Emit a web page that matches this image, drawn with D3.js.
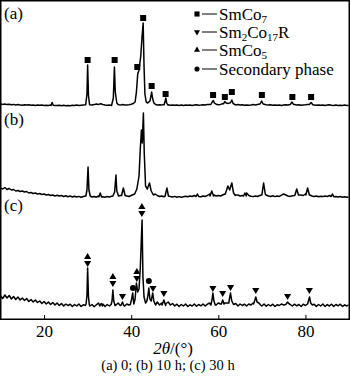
<!DOCTYPE html>
<html><head><meta charset="utf-8">
<script src="https://cdn.jsdelivr.net/npm/d3@7"></script>
<style>body{margin:0;background:#fff}svg{display:block}text{font-family:"Liberation Serif","Times New Roman",serif;fill:#000}</style>
</head><body><svg id="c" width="350" height="380"></svg>
<script>
// ---------- data ----------
const xTicks = [20, 40, 60, 80];
const traceLabels = ["(a)", "(b)", "(c)"];
const traceOffsets = [213, 121, 12];        // intensity offset of each pattern (a.u.)
const baseStart = 10, baseStep = 0.5;        // background sampled every 0.5 deg from 10 deg

const aBase = [2.2,1.6,2.0,1.4,1.8,1.2,1.6,1.0,1.4,1.1,0.8,1.3,0.9,1.2,0.7,1.0,0.6,1.1,0.7,0.9,0.5,
 0.8,0.6,1.0,0.8,0.5,0.4,0.8,0.3,0.7,0.2,0.6,0.3,0.7,0.4,0.9,0.5,0.8,1.0,1.2,1.5,
 1.2,0.9,1.4,2.0,1.6,2.3,1.5,1.0,0.7,1.0,0.6,1.1,0.8,1.2,0.9,1.5,1.1,0.9,1.3,1.8,
 2.5,3.0,4.0,5.0,6.0,5.0,3.0,2.5,1.8,1.2,1.5,1.0,1.3,0.9,1.6,2.0,1.2,0.8,1.1,0.7,
 1.0,0.6,0.9,0.5,1.0,0.7,1.1,0.6,0.9,1.2,0.8,1.0,1.3,0.9,1.4,1.6,2.0,1.8,1.5,1.3,
 1.6,2.2,2.5,3.0,2.4,1.8,1.5,1.1,1.4,0.9,1.2,0.8,1.1,0.7,1.0,1.4,1.1,1.6,2.0,2.5,
 1.8,1.3,1.0,1.3,0.8,1.1,0.7,1.0,0.6,0.9,1.2,1.0,1.5,1.8,1.4,1.0,1.2,0.8,1.1,1.3,
 1.6,2.0,1.5,1.1,0.8,1.1,0.7,1.0,0.6,0.9,1.2,0.8,0.6,0.9,0.5,0.8,0.6,0.9,0.5,0.7];
const aPeaks = [
 [[21.6,0.6],[21.85,3.5],[22.1,0.7]],
 [[29.55,1.2],[29.85,12],[30.0,41],[30.2,10],[30.45,1.5]],
 [[35.55,1.5],[35.9,8],[36.15,39],[36.35,14],[36.7,3],[37.0,1.5]],
 [[40.9,4],[41.2,14],[41.5,32],[41.8,36],[42.2,50],[42.5,70],[42.75,83],[42.95,40],[43.15,12],[43.45,4],[43.8,3],[44.3,5],[44.55,10],[44.7,14],[44.9,8],[45.2,3],[45.6,1.5]],
 [[47.55,1.2],[47.8,5],[47.95,8],[48.15,3],[48.4,1]],
 [[58.3,1.5],[58.6,4],[58.85,5.5],[59.1,3],[59.5,1.8]],
 [[61.2,2.2],[61.5,4.5],[61.8,3],[62.3,2.6],[62.8,3.2],[63.1,6],[63.4,2.5],[63.8,1.5]],
 [[69.6,2],[69.95,5],[70.3,2]],
 [[76.5,1.4],[76.9,4],[77.3,1.4]],
 [[80.9,1.4],[81.3,3.5],[81.7,1.2]]
];
const aMarkers = [[30.0,46,"sq"],[36.2,46,"sq"],[41.4,39,"sq"],[42.75,88,"sq"],[44.7,20,"sq"],[47.9,12,"sq"],
 [58.8,11,"sq"],[61.5,9,"sq"],[63.1,14,"sq"],[70.0,11,"sq"],[77.0,9,"sq"],[81.3,9,"sq"]];

const bBase = [10,9,10.5,8.5,9.5,8,8.5,7,7.5,6.5,7,6,6.5,5,5.5,4.5,5,4,4.5,3.5,4,
 3,3.5,2.5,3,2,2.8,2,2.5,1.5,2.2,1.2,2,1,1.8,1,1.6,0.8,1.5,2,3,
 2,1,1.5,0.8,2,3,1.2,0.8,1.5,1,1.8,1.2,2.5,3,2.5,1.6,1.2,2,1.5,2.5,
 3.5,5,5,5,5,5,5,5,5,5,4,2.5,1.5,2,1.2,2.5,3,1.5,1,1.6,
 0.8,1.4,0.7,1.3,1.8,1.2,2,1.5,2.5,4,1.5,1.2,2,1.6,2.5,4,2,3,2,2.5,
 2,3,4,3,3,3,3,3,3,2,2.5,3.5,5,2.5,1.8,1.4,2,1.5,2.5,3,
 3,3,2,1.5,2.2,1.4,2,1.6,2.8,4,3,2,1.6,2.2,2.5,4,3,3,2.5,4,
 3,3,2,1.5,2,1.2,1.8,1.4,2,1.5,2.5,4,2,1.4,1,1.5,0.8,1.3,0.7,1.1];
const bPeaks = [
 [[29.6,2],[29.85,8],[30.1,31],[30.3,8],[30.6,2]],
 [[32.6,1.2],[32.9,5],[33.2,1]],
 [[35.8,2],[36.2,6],[36.5,23],[36.7,7],[37.1,2]],
 [[37.8,2.5],[38.2,10],[38.6,2.5]],
 [[40.8,4],[41.3,9],[41.8,22],[42.1,50],[42.35,68],[42.55,55],[42.8,85],[43.0,45],[43.3,12],[43.7,9],[44.2,15],[44.6,7],[45.1,3]],
 [[47.8,2],[48.2,10],[48.55,2]],
 [[54.9,1.5],[55.2,4],[55.5,1.5]],
 [[58.1,2],[58.5,7],[58.9,2]],
 [[61.6,4],[62.2,12],[62.6,8],[63.1,15],[63.5,5],[63.9,2.5]],
 [[65.8,2],[66.1,5],[66.4,2]],
 [[70.0,3],[70.4,15],[70.8,3.5]],
 [[77.6,3],[78.0,9],[78.4,3]],
 [[80.1,3],[80.5,10],[80.9,3]],
 [[85.9,1.5],[86.2,4],[86.5,1.2]]
];
const bMarkers = [];

const cBase = [11,8.5,12,9,11.5,8,10.5,7.5,10,7,9,6.5,8.5,5.5,7.5,5,7,4.5,6,3.5,5.5,
 3,5,2.5,4.5,2,4,1.5,3.5,1,3,1.5,2.8,0.5,2.5,1,3,0.5,2.2,1.5,3,
 1,2.5,0.3,2.2,4,1.5,3,0.5,2.5,1,3,5,2,4,1.5,3.5,1,3,2,4,
 3,6,6,6,6,6,6,6,6,6,6,5,2,4,1.5,3.5,5,2,3.5,1,
 2.8,0.5,2.5,1,3,0.5,2.2,1,3,0.8,2.5,1.2,3,1,2.8,4,3,3,2,4,
 3,4,4,4,4,4,2,3.5,1,3,1.5,2.8,1,3,2,4,4,4,2.5,1,
 3,0.8,2.5,1,2.8,0.5,2.2,1.5,3,2,4,3,2.5,1,2.8,1.2,2.5,0.5,2.8,1.5,
 4,4,1,2.8,0.6,2.5,1,3,0.5,2.4,1,2.8,0.6,2.5,1.2,2.8,0.5,2.2,1,2.5];
const cPeaks = [
 [[29.65,3],[29.85,12],[30.0,39],[30.2,10],[30.4,2]],
 [[32.8,1],[33.1,3.5],[33.4,1]],
 [[35.4,2.5],[35.6,6],[35.8,17],[36.0,6],[36.3,1.5]],
 [[37.7,2],[38.0,5],[38.3,1.5]],
 [[39.8,2.5],[40.1,8],[40.35,14],[40.6,3],[40.9,8],[41.2,24],[41.5,15],[41.8,18],[42.1,40],[42.35,70],[42.5,87],[42.7,30],[42.95,10],[43.3,4],[43.6,6],[43.9,13],[44.05,19],[44.3,8],[44.6,6],[44.95,14],[45.2,6],[45.6,2]],
 [[47.1,2],[47.5,7],[47.9,1.5]],
 [[58.3,2],[58.55,7],[58.75,14],[59.0,6],[59.3,2]],
 [[60.7,3],[61.0,7],[61.3,3]],
 [[62.4,4],[62.8,14],[63.1,6],[63.5,2.5]],
 [[68.1,3],[68.4,7],[68.6,10],[68.9,5],[69.3,4],[69.7,2]],
 [[75.5,2.5],[75.9,5],[76.3,3]],
 [[80.5,3],[80.8,8],[80.95,10],[81.2,4],[81.6,2]]
];
const cMarkers = [[30.0,47,"updown"],[35.8,27,"updown"],[38.0,11,"down"],[40.4,19,"dot"],[41.3,32,"updown"],
 [42.45,97,"updown"],[44.05,26,"dot"],[45.0,19,"down"],[47.5,14,"down"],
 [58.75,19,"down"],[61.0,14,"down"],[62.8,20,"down"],[68.6,17,"down"],[75.9,11,"down"],[80.9,17,"down"]];

const legendSymbols = ["sq", "down", "up", "dot"];
const legendLabels = [
 [["SmCo",0],["7",1]],
 [["Sm",0],["2",1],["Co",0],["17",1],["R",0]],
 [["SmCo",0],["5",1]],
 [["Secondary phase",0]]
];
const xTitle = [["2θ",1],["/(°)",0]];
const caption = "(a) 0; (b) 10 h; (c) 30 h";

// ---------- drawing ----------
const svg = d3.select("#c");
const x = d3.scaleLinear().domain([10, 90]).range([0.5, 349]);
const y = d3.scaleLinear().domain([0, 318]).range([319, 1]);

function build(base, peaks) {
  let pts = base.map((v, i) => [baseStart + i * baseStep, v]);
  peaks.forEach(g => { const x0 = g[0][0], x1 = g[g.length - 1][0]; pts = pts.filter(p => p[0] < x0 || p[0] > x1); });
  peaks.forEach(g => pts.push(...g));
  pts.sort((a, b) => a[0] - b[0]);
  return pts;
}
const traces = [build(aBase, aPeaks), build(bBase, bPeaks), build(cBase, cPeaks)];
const markers = [aMarkers, bMarkers, cMarkers];

svg.append("clipPath").attr("id", "clp").append("rect").attr("x", 1).attr("y", 1).attr("width", 347.5).attr("height", 317.5);
const plot = svg.append("g").attr("clip-path", "url(#clp)");

traces.forEach((t, i) => {
  const off = traceOffsets[i];
  plot.append("path").datum(t)
    .attr("fill", "none").attr("stroke", "#000").attr("stroke-width", 1.5).attr("stroke-linejoin", "round")
    .attr("d", d3.line().x(d => x(d[0])).y(d => y(d[1] + off)));
});

const triUp = d3.symbol(d3.symbolTriangle, 22)();
function drawSym(g, type, cx, cy, s) {
  s = s || 1;
  if (type === "sq") g.append("rect").attr("x", cx - 3 * s).attr("y", cy - 3 * s).attr("width", 6 * s).attr("height", 6 * s);
  else if (type === "dot") g.append("circle").attr("cx", cx).attr("cy", cy).attr("r", 3 * s);
  else if (type === "up") g.append("path").attr("d", triUp).attr("transform", `translate(${cx},${cy}) scale(${s})`);
  else if (type === "down") g.append("path").attr("d", triUp).attr("transform", `translate(${cx},${cy}) scale(${s}) rotate(180)`);
  else if (type === "updown") {
    g.append("path").attr("d", triUp).attr("transform", `translate(${cx},${cy - 3}) scale(${s})`);
    g.append("path").attr("d", triUp).attr("transform", `translate(${cx},${cy + 3}) scale(${s}) rotate(180)`);
  }
}
const mg = svg.append("g").attr("fill", "#000");
markers.forEach((ms, i) => ms.forEach(m => drawSym(mg, m[2], x(m[0]), y(m[1] + traceOffsets[i]))));

// frame
svg.append("rect").attr("x", 0.75).attr("y", 0.75).attr("width", 348.5).attr("height", 318.5)
  .attr("fill", "none").attr("stroke", "#000").attr("stroke-width", 1.5);

// x axis
const ax = svg.append("g").attr("transform", "translate(0,319)")
  .call(d3.axisBottom(x).tickValues(xTicks).tickSize(-4).tickFormat(d3.format("d")));
ax.select(".domain").remove();
ax.selectAll(".tick line").attr("stroke", "#000").attr("stroke-width", 1);
ax.selectAll(".tick text").attr("y", 18).attr("dy", 0).attr("font-size", 17)
  .attr("font-family", '"Liberation Serif","Times New Roman",serif').attr("fill", "#000");

// axis title
const tt = svg.append("text").attr("x", 173).attr("y", 354).attr("text-anchor", "middle").attr("font-size", 17);
xTitle.forEach(s => tt.append("tspan").attr("font-style", s[1] ? "italic" : "normal").text(s[0]));

// caption
svg.append("text").attr("x", 168).attr("y", 370).attr("text-anchor", "middle").attr("font-size", 14.5).text(caption);

// panel labels
const labY = [19, 125, 211];
traceLabels.forEach((l, i) => svg.append("text").attr("x", 4).attr("y", labY[i]).attr("font-size", 17).text(l));

// legend
const lg = svg.append("g");
const rowY = [14, 32, 50, 69];
legendSymbols.forEach((s, i) => {
  drawSym(lg, s, 197, rowY[i], 0.85);
  lg.append("line").attr("x1", 202).attr("x2", 217).attr("y1", rowY[i]).attr("y2", rowY[i]).attr("stroke", "#000").attr("stroke-width", 1);
  const t = lg.append("text").attr("x", 219).attr("y", rowY[i] + 5.5).attr("font-size", 17);
  let sub = false;
  legendLabels[i].forEach(seg => {
    const ts = t.append("tspan").text(seg[0]);
    if (seg[1] && !sub) { ts.attr("dy", 3.5).attr("font-size", 11); sub = true; }
    else if (seg[1]) { ts.attr("font-size", 11); }
    else if (!seg[1] && sub) { ts.attr("dy", -3.5); sub = false; }
  });
});
</script></body></html>
